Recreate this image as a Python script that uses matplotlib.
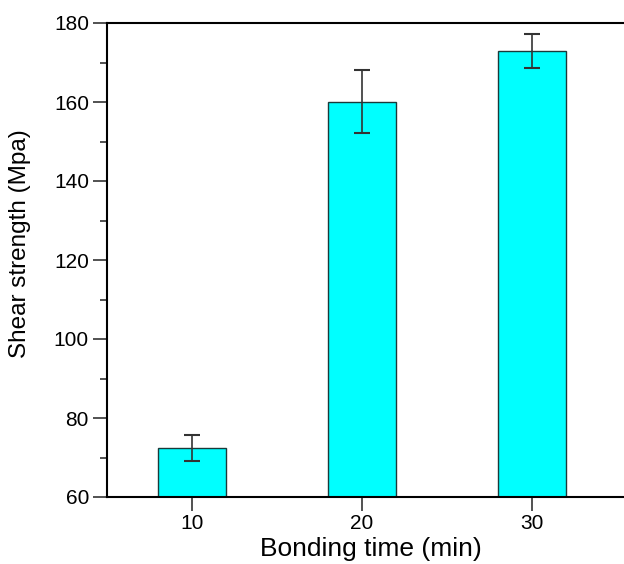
import matplotlib
matplotlib.use("Agg")
import matplotlib.pyplot as plt
from matplotlib.ticker import MultipleLocator

plt.rcParams['font.family'] = ['Liberation Sans', 'DejaVu Sans']

times = [10, 20, 30]
strength = [72.4, 160.1, 173.0]
errors = [3.2, 8.0, 4.3]
tick_labels = ["10", "20", "30"]

fig = plt.figure(figsize=(6.24, 5.64), dpi=100)
W, H = 624, 564
left, right, top, bottom = 107, 634, 23, 497
ax = fig.add_axes([left / W, 1 - bottom / H, (right - left) / W, (bottom - top) / H])

ax.bar(times, strength, width=4, color='#00FFFF', edgecolor='#1a3a3a', linewidth=1.0, zorder=2)
ax.errorbar(times, strength, yerr=errors, fmt='none', ecolor='#333333', elinewidth=1.2,
            capsize=6, capthick=1.5, zorder=3)

ax.set_xlim(5, 36)
ax.set_ylim(60, 180)
ax.set_xticks(times)
ax.set_xticklabels(tick_labels)
ax.yaxis.set_major_locator(MultipleLocator(20))
ax.yaxis.set_minor_locator(MultipleLocator(10))

for s in ['left', 'bottom', 'top']:
    ax.spines[s].set_linewidth(1.5)
ax.spines['right'].set_visible(False)

ax.tick_params(axis='both', which='major', direction='out', length=10, width=1.2,
               labelsize=15, pad=3, color='#333333')
ax.tick_params(axis='x', which='major', pad=2)
ax.tick_params(axis='y', which='minor', direction='out', length=5, width=1.2, color='#333333')
ax.tick_params(axis='x', which='minor', bottom=False)

ax.set_xlabel("Bonding time (min)", fontsize=19, labelpad=3)
ax.set_ylabel("Shear strength (Mpa)", fontsize=17.5)
ax.yaxis.set_label_coords(-0.144, 0.535)

fig.savefig("out.png", dpi=100)
